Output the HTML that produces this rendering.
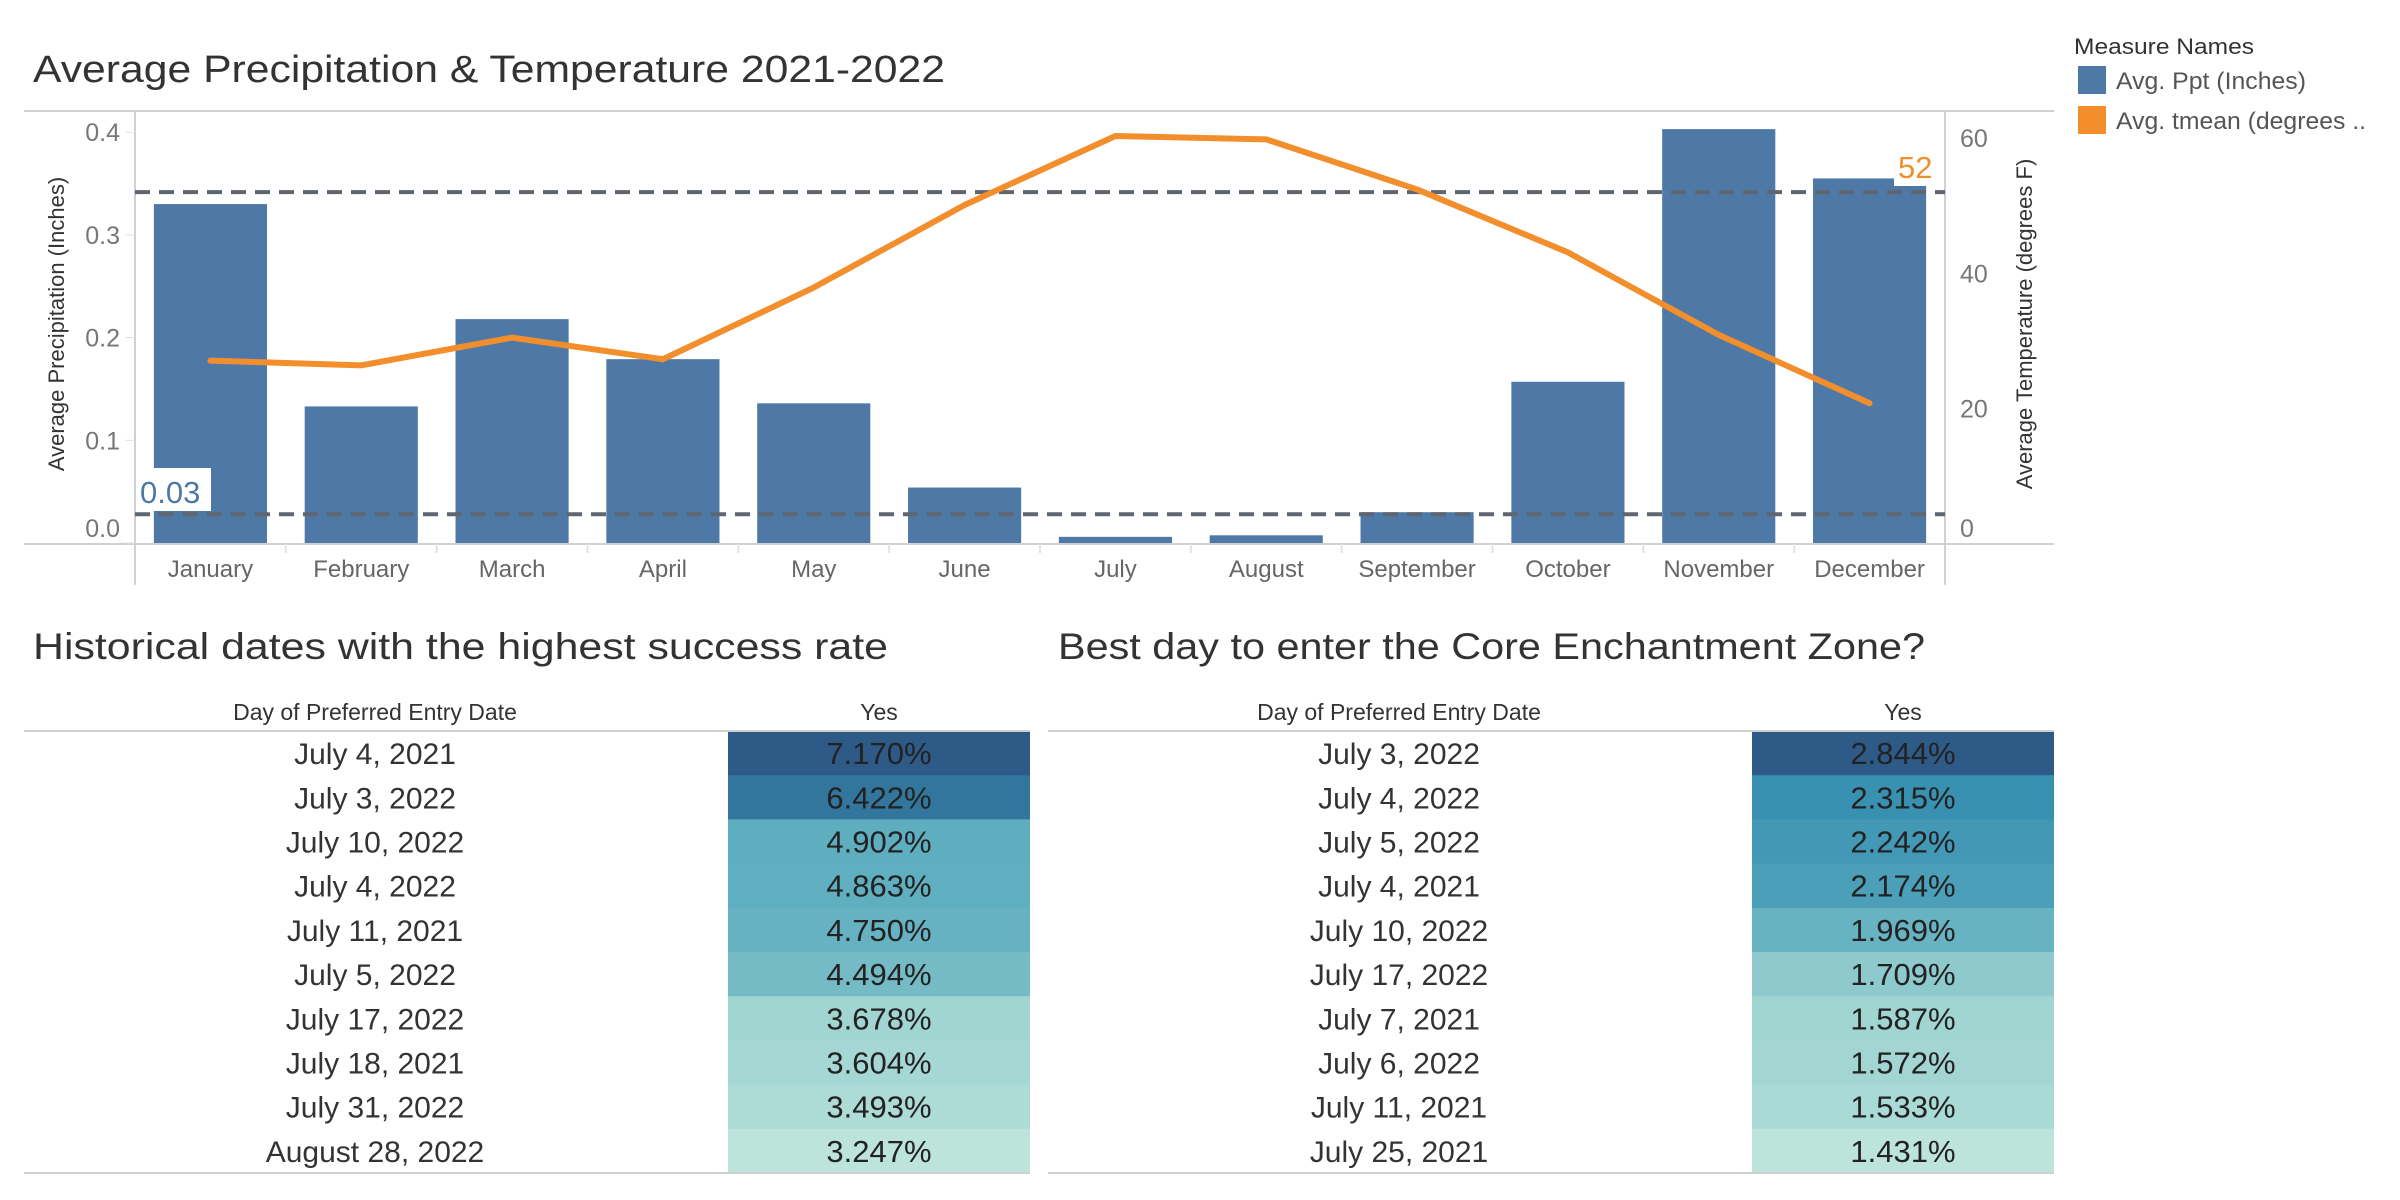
<!DOCTYPE html>
<html><head><meta charset="utf-8">
<style>
html,body{margin:0;padding:0;background:#fff;}
svg{display:block;font-family:"Liberation Sans",sans-serif;}
</style></head>
<body>
<svg id="c" width="2400" height="1200" viewBox="0 0 2400 1200" xmlns="http://www.w3.org/2000/svg">
  <text x="33" y="82" font-size="38" fill="#333" textLength="912" lengthAdjust="spacingAndGlyphs">Average Precipitation &amp; Temperature 2021-2022</text>
  <g id="chart"></g>
  <g>
    <text x="2074" y="54" font-size="22" fill="#333" textLength="180" lengthAdjust="spacingAndGlyphs">Measure Names</text>
    <rect x="2078" y="66" width="28" height="28" fill="#4E79A7"/>
    <text x="2116" y="89" font-size="24" fill="#555" textLength="190" lengthAdjust="spacingAndGlyphs">Avg. Ppt (Inches)</text>
    <rect x="2078" y="106" width="28" height="28" fill="#F28E2B"/>
    <text x="2116" y="129" font-size="24" fill="#555" textLength="250" lengthAdjust="spacingAndGlyphs">Avg. tmean (degrees ..</text>
  </g>
  <text x="33" y="659" font-size="37" fill="#333" textLength="855" lengthAdjust="spacingAndGlyphs">Historical dates with the highest success rate</text>
  <text x="1058" y="659" font-size="37" fill="#333" textLength="867" lengthAdjust="spacingAndGlyphs">Best day to enter the Core Enchantment Zone?</text>
  <g id="tables"></g>
</svg>
<script>
const months = ["January","February","March","April","May","June","July","August","September","October","November","December"];
const ppt = [0.330,0.133,0.218,0.179,0.136,0.054,0.006,0.0075,0.030,0.157,0.403,0.355];
const tmean = [27.1,26.4,30.5,27.3,37.9,50.1,60.3,59.8,52.4,43.1,30.9,20.8];
const pptTicks = [0.0,0.1,0.2,0.3,0.4];
const tempTicks = [0,20,40,60];
const avgPpt = 0.028;
const avgPptLabel = "0.03";
const avgTemp = 52;
const avgTempLabel = "52";

const leftDates = ["July 4, 2021","July 3, 2022","July 10, 2022","July 4, 2022","July 11, 2021","July 5, 2022","July 17, 2022","July 18, 2021","July 31, 2022","August 28, 2022"];
const leftValues = [7.170,6.422,4.902,4.863,4.750,4.494,3.678,3.604,3.493,3.247];
const rightDates = ["July 3, 2022","July 4, 2022","July 5, 2022","July 4, 2021","July 10, 2022","July 17, 2022","July 7, 2021","July 6, 2022","July 11, 2021","July 25, 2021"];
const rightValues = [2.844,2.315,2.242,2.174,1.969,1.709,1.587,1.572,1.533,1.431];

const NS="http://www.w3.org/2000/svg";
function mk(parent,tag,attrs,text){const e=document.createElementNS(NS,tag);for(const k in attrs)e.setAttribute(k,attrs[k]);if(text!==undefined)e.textContent=text;parent.appendChild(e);return e;}

const L=135,R=1945,T=111,B=544;
const bw=(R-L)/months.length;
const xc=i=>L+bw*(i+0.5);
const yP=v=>543-v*1027;
const yT=v=>544-v*(406/60);

const g=document.getElementById('chart');
let e;
e=mk(g,'line',{x1:24,y1:T,x2:2054,y2:T,stroke:'#d0d0d0','stroke-width':2});


e=mk(g,'line',{x1:24,y1:B,x2:2054,y2:B,stroke:'#d0d0d0','stroke-width':2});


e=mk(g,'line',{x1:L,y1:T,x2:L,y2:585,stroke:'#d0d0d0','stroke-width':2});


e=mk(g,'line',{x1:R,y1:T,x2:R,y2:585,stroke:'#d0d0d0','stroke-width':2});



pptTicks.forEach(v=>{
  const y=(v===0)?528:yP(v);
  const t=mk(g,'text',{x:120,y:y+9,'font-size':25,fill:'#777','text-anchor':'end'},v.toFixed(1));
  
  
  const tk=mk(g,'line',{x1:125,x2:L,y1:yP(v),y2:yP(v),stroke:'#e0e0e0','stroke-width':1});
  
  
});
tempTicks.forEach(v=>{
  const y=(v===0)?528:yT(v);
  const t=mk(g,'text',{x:1960,y:y+9,'font-size':25,fill:'#777'},String(v));
  
  
});
e=mk(g,'text',{transform:'translate(64,324) rotate(-90)','font-size':22,fill:'#333','text-anchor':'middle'},'Average Precipitation (Inches)');


e=mk(g,'text',{transform:'translate(2032,324) rotate(-90)','font-size':22,fill:'#333','text-anchor':'middle'},'Average Temperature (degrees F)');



months.forEach((m,i)=>{
  const w=bw*0.75;
  const b=mk(g,'rect',{x:xc(i)-w/2,y:yP(ppt[i]),width:w,height:yP(0)-yP(ppt[i]),fill:'#4E79A7'});
  
  
  const t=mk(g,'text',{x:xc(i),y:577,'font-size':24,fill:'#666','text-anchor':'middle'},m);
  
  
  if(i>0){const d=mk(g,'line',{x1:L+bw*i,x2:L+bw*i,y1:B,y2:553,stroke:'#e3e3e3','stroke-width':2});
  
  }
});

e=mk(g,'line',{x1:L,x2:R,y1:yP(avgPpt),y2:yP(avgPpt),stroke:'#5f6670','stroke-width':4,'stroke-dasharray':'15,9'});


e=mk(g,'line',{x1:L,x2:R,y1:yT(avgTemp),y2:yT(avgTemp),stroke:'#5f6670','stroke-width':4,'stroke-dasharray':'15,9'});



const pts=tmean.map((v,i)=>xc(i)+','+yT(v)).join(' ');
e=mk(g,'polyline',{points:pts,fill:'none',stroke:'#F28E2B','stroke-width':6,'stroke-linejoin':'round','stroke-linecap':'round'});



e=mk(g,'rect',{x:137,y:468,width:74,height:43,fill:'#fff'});


e=mk(g,'text',{x:140,y:503,'font-size':31,fill:'#4E79A7'},avgPptLabel);


e=mk(g,'rect',{x:1894,y:148,width:50,height:38,fill:'#fff'});


e=mk(g,'text',{x:1898,y:178,'font-size':31,fill:'#F28E2B'},avgTempLabel);



const stops=[[0,[189,228,219]],[0.1,[163,214,211]],[0.45,[88,170,190]],[0.65,[53,141,176]],[1,[46,90,135]]];
function colorFor(t){
  for(let k=1;k<stops.length;k++){
    if(t<=stops[k][0]){const a=stops[k-1],b=stops[k];const u=(t-a[0])/(b[0]-a[0]);
      return 'rgb('+a[1].map((c,j)=>Math.round(c+(b[1][j]-c)*u)).join(',')+')';}
  }
  return 'rgb(46,90,135)';
}
const tg=document.getElementById('tables');
function table(dates,vals,x0,dateX,cellX0,cellX1,name){
  const grp=mk(tg,'g',{});
  
  
  const top=731,rh=44.2;
  let h=mk(grp,'text',{x:dateX,y:720,'font-size':23,fill:'#333','text-anchor':'middle'},'Day of Preferred Entry Date');
  
  
  h=mk(grp,'text',{x:(cellX0+cellX1)/2,y:720,'font-size':23,fill:'#333','text-anchor':'middle'},'Yes');
  
  
  const mn=Math.min(...vals),mx=Math.max(...vals);
  vals.forEach((v,i)=>{
    const y=top+i*rh;
    const c=mk(grp,'rect',{x:cellX0,y:y,width:cellX1-cellX0,height:rh+0.5,fill:colorFor((v-mn)/(mx-mn))});
    
    
    const d=mk(grp,'text',{x:dateX,y:y+rh/2+11,'font-size':30,fill:'#333','text-anchor':'middle'},dates[i]);
    
    
    const p=mk(grp,'text',{x:(cellX0+cellX1)/2,y:y+rh/2+11,'font-size':31,fill:'#222','text-anchor':'middle'},v.toFixed(3)+'%');
    
    
  });
  let ln=mk(grp,'line',{x1:x0,x2:cellX1,y1:top,y2:top,stroke:'#cfcfcf','stroke-width':2});
  
  
  ln=mk(grp,'line',{x1:x0,x2:cellX1,y1:top+rh*10,y2:top+rh*10,stroke:'#cfcfcf','stroke-width':2});
  
  
}
table(leftDates,leftValues,24,375,728,1030,'left-table');
table(rightDates,rightValues,1048,1399,1752,2054,'right-table');
</script>
</body></html>
